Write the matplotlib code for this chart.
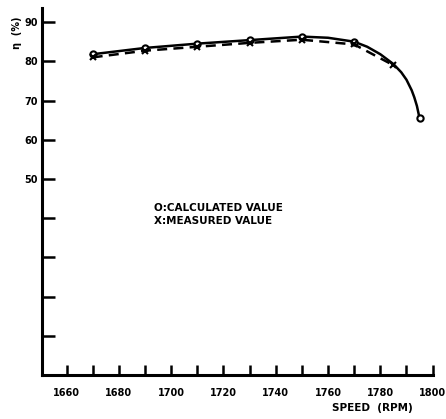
import matplotlib
matplotlib.use("Agg")
import matplotlib.pyplot as plt

# calculated efficiency (solid line, circles)
calc_speed = [1670, 1690, 1710, 1730, 1750, 1770, 1795]
calc_eff = [81.8, 83.4, 84.5, 85.4, 86.3, 85.0, 65.5]
# points, incl. the bend between the last two markers
curve_speed = [1670, 1690, 1710, 1730, 1750, 1760, 1770, 1775, 1780, 1785,
               1788, 1790, 1792, 1793, 1794, 1795]
curve_eff = [81.8, 83.4, 84.5, 85.4, 86.3, 86.0, 85.0, 83.7, 81.8, 79.3,
             77.2, 75.3, 72.6, 70.8, 68.6, 65.5]

# measured efficiency (dashed line, crosses)
meas_speed = [1670, 1690, 1710, 1730, 1750, 1770, 1785]
meas_eff = [81.0, 82.7, 83.7, 84.7, 85.5, 84.3, 79.0]

xticks = list(range(1660, 1801, 10))
xlabels = [str(v) if v % 20 == 0 else "" for v in xticks]
yticks = list(range(10, 91, 10))
ylabels = [str(v) if v >= 50 else "" for v in yticks]


def main():
    fig = plt.figure(figsize=(4.46, 4.19), dpi=100)
    ax = fig.add_axes([0.094, 0.105, 0.876, 0.876])

    ax.plot(curve_speed, curve_eff, color="black", lw=1.8)
    ax.plot(calc_speed, calc_eff, "o", color="black", ms=4.5, mfc="white", mew=1.5)
    ax.plot(meas_speed, meas_eff, color="black", lw=1.8, ls=(0, (4, 2.5)),
            marker="x", ms=4, mew=1.5)

    ax.set_xlim(1650.6, 1800)
    ax.set_ylim(0, 93.6)

    ax.spines["top"].set_visible(False)
    ax.spines["right"].set_visible(False)
    ax.spines["left"].set_linewidth(2.2)
    ax.spines["bottom"].set_linewidth(2.2)

    ax.set_xticks(xticks)
    ax.set_xticklabels(xlabels, fontsize=7, fontweight="bold")
    ax.set_yticks(yticks)
    ax.set_yticklabels(ylabels, fontsize=7, fontweight="bold")
    ax.tick_params(axis="x", direction="in", length=7, width=1.8, pad=9)
    ax.tick_params(axis="y", direction="in", length=9, width=1.8, pad=3)

    ax.text(1693.5, 41.8, "O:CALCULATED VALUE", fontsize=7.5, fontweight="bold")
    ax.text(1693.5, 38.5, "X:MEASURED VALUE", fontsize=7.5, fontweight="bold")

    fig.text(0.834, 0.02, "SPEED  (RPM)", fontsize=7.5, fontweight="bold", ha="center")
    fig.text(0.038, 0.922, "η  (%)", fontsize=7, fontweight="bold", rotation=90,
             ha="center", va="center")

    fig.savefig("out.png", dpi=100)


if __name__ == "__main__":
    main()
